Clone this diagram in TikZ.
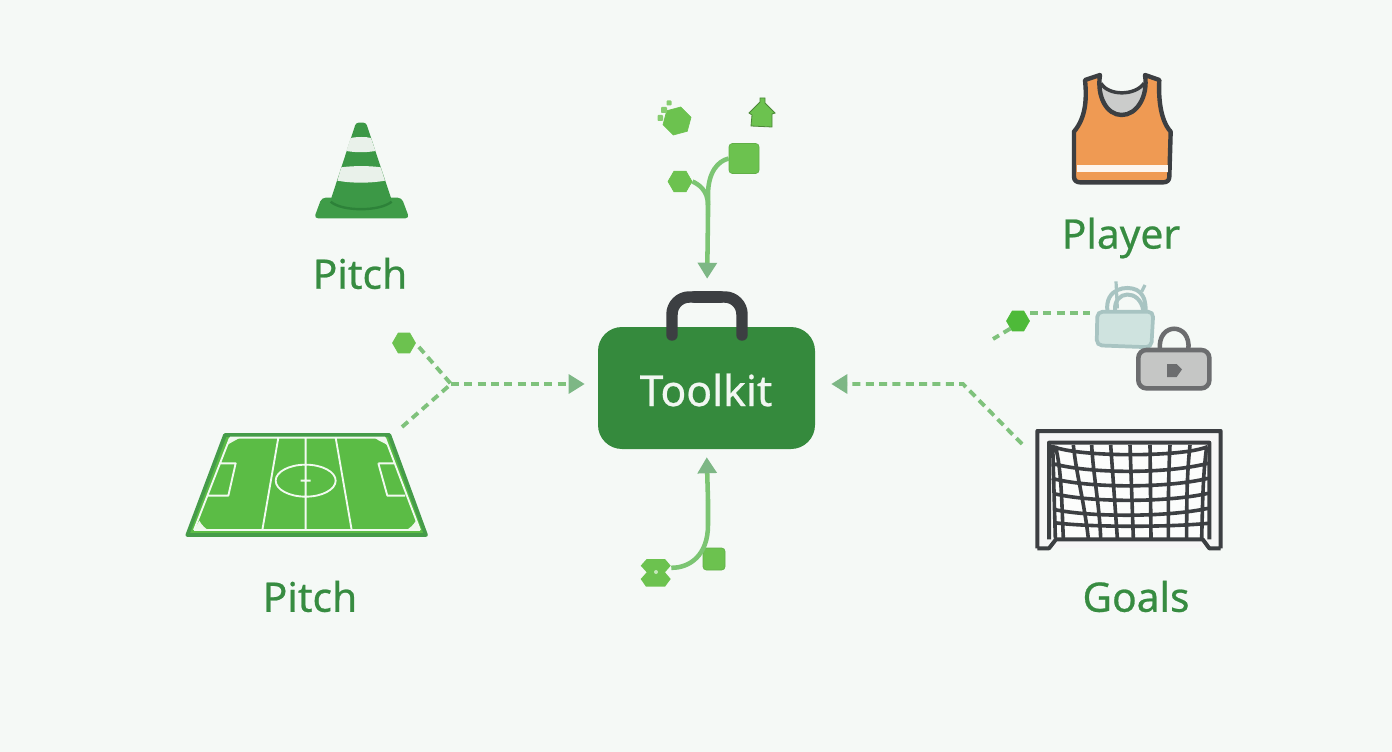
\documentclass[tikz,border=0pt]{standalone}
\usepackage{fontspec}
\setmainfont[FakeBold=0.6]{Noto Sans}
\usetikzlibrary{arrows.meta,shapes.geometric}
\definecolor{bgc}{HTML}{F5F9F6}
\definecolor{tkgreen}{HTML}{358A3D}
\definecolor{lbl}{HTML}{378C41}
\definecolor{lime}{HTML}{6CC24F}
\definecolor{conn}{HTML}{7CC573}
\definecolor{dashc}{HTML}{7FC27C}
\definecolor{headc}{HTML}{7DB785}
\definecolor{pitchf}{HTML}{5BBC45}
\definecolor{pitche}{HTML}{459C49}
\definecolor{dark}{HTML}{3C3F42}
\definecolor{orangef}{HTML}{EF9A53}
\definecolor{conef}{HTML}{3F9C48}
\definecolor{coned}{HTML}{2D8239}
\definecolor{stripe}{HTML}{E9F1EA}
\definecolor{lockaf}{HTML}{CFE3DF}
\definecolor{lockae}{HTML}{A8C4C2}
\definecolor{lockbf}{HTML}{C5C6C5}
\definecolor{lockbe}{HTML}{6C6D6F}
\tikzset{
  lab/.style={font=\fontsize{30.5pt}{34pt}\selectfont,text=lbl,inner sep=0pt},
  hexa/.style={regular polygon,regular polygon sides=6,fill=lime,draw=lime,line width=.5pt,inner sep=0pt,minimum size=#1*1.5pt},
  sq/.style={rectangle,rounded corners=2.5pt,fill=lime,draw=lime!90!black,line width=.5pt,inner sep=0pt,minimum size=#1*.75pt},
  solidc/.style={draw=conn,line width=3.4pt},
  headarrow/.style={-{Triangle[length=12pt,width=14pt,color=headc,fill=headc]}},
  dashl/.style={draw=dashc,line width=2.9pt,dash pattern=on 6pt off 4pt},
  zoomed/.style={shift={#1},x=.25pt,y=-.25pt},
}
\begin{document}
\begin{tikzpicture}[x=.75pt,y=-.75pt]
\useasboundingbox (0,0) rectangle (1392,752);
\fill[bgc] (0,0) rectangle (1392,752);

% Toolkit bag
\node[rectangle,rounded corners=18pt,fill=tkgreen,minimum width=162.75pt,minimum height=91.5pt,inner sep=0pt] (toolkit) at (706.5,388) {};
\draw[dark,line width=8.6pt,line cap=round,rounded corners=13pt] (672,335) -- (672,297) -- (742,297) -- (742,335);
\draw[dark,line width=9.6pt,line cap=round] (695,297) -- (720,297);
\node[font=\fontsize{32pt}{36pt}\selectfont,text=white!93!tkgreen,inner sep=0pt] (toolkitlabel) at (706,390) {Toolkit};

% Top cluster
\node[hexa=14.5,rotate=15] (hextop) at (677,121) {};
\fill[lime!80!bgc,rounded corners=.6pt] (666.5,100.5) rectangle (671.5,105.5) (661,107) rectangle (667,113) (657.5,115) rectangle (663,121);
\fill[lime,draw=lime!70!black,line width=.6pt] (760,102) -- (760,98) -- (765,98) -- (765,103) -- (775,113) -- (772,114) -- (772,127) -- (751,126) -- (752,115) -- (749,113) -- cycle;
\node[sq=30] (sqtop) at (744,158.5) {};
\node[hexa=12] (hexmid) at (680,181.5) {};
\coordinate (trunkt) at (708,215);
\draw[solidc] (sqtop.west) .. controls (718,161) and (708,172) .. (708,195) -- (trunkt);
\draw[solidc] (hexmid.east) .. controls (698,184) and (708,190) .. (708,205);
\draw[solidc,headarrow,shorten >=36pt] (trunkt) -- (toolkit.north);

% Bottom cluster
\node[sq=22] (sqbot) at (714,559) {};
\node[minimum width=22.5pt,minimum height=20pt,inner sep=0pt] (notch) at (656,572.8) {};
\fill[lime] (646.7,559) -- (665,559) -- (670.7,565.7) -- (665,572.3) -- (670.7,579) -- (665,586.7) -- (646,586.7) -- (640.7,579) -- (646.7,572.3) -- (640.7,565.7) -- cycle;
\fill[white!60!lime] (656,572) circle (1.5pt);
\coordinate (trunkb) at (708,500);
\draw[solidc] (notch.east) ++(0,-5) .. controls (690,568) and (708,555) .. (708,525) -- (trunkb);
\draw[solidc,headarrow,shorten >=6pt] (trunkb) -- (toolkit.south);

% Left dashed connectors
\node[hexa=11.5] (hexleft) at (404,343) {};
\coordinate (jl) at (451,384);
\coordinate (pitchend) at (402,427);
\draw[dashl] (hexleft.east) ++(3,4) -- (jl);
\draw[dashl] (pitchend) -- (jl);
\draw[dashl,headarrow,shorten >=9.75pt] (jl) -- (toolkit.west |- jl) ;

% Right dashed connectors
\coordinate (jr) at (963,384);
\coordinate (goalend) at (1022,444);
\draw[dashl,headarrow,shorten >=12pt] (goalend) -- (jr) -- (toolkit.east |- jr);
\node[hexa=11.5,fill=lime!80!green!90!black,draw=lime!80!green!90!black] (hexright) at (1018,321) {};
\coordinate (lockend) at (1090,313);
\coordinate (freer) at (993,339);
\draw[dashl] (hexright.east |- lockend) -- (lockend);
\draw[dashl] (hexright.south west) -- (freer);

% Labels
\node[lab] (lpitcha) at (360,273.5) {Pitch};
\node[lab] (lpitchb) at (310,596.5) {Pitch};
\node[lab] (lplayer) at (1121,238) {Player};
\node[lab] (lgoals) at (1136,596.5) {Goals};

% Cone
\begin{scope}[zoomed={(300,110)}]
\fill[conef,rounded corners=3pt] (65,263) -- (305,263) -- (328,325) -- (42,325) -- cycle;
\fill[conef!85!coned,rounded corners=2pt] (168,38) -- (198,38) -- (275,270) .. controls (240,305) and (125,305) .. (92,270) -- cycle;
\draw[coned,line width=1.8pt] (92,275) .. controls (125,305) and (240,305) .. (275,275);
\fill[stripe] (152,84) .. controls (170,80) and (200,80) .. (213,84) -- (226,123) .. controls (195,128) and (170,128) .. (139,123) -- cycle;
\fill[stripe] (124,172) .. controls (160,167) and (210,167) .. (242,172) -- (255,212) .. controls (210,220) and (155,220) .. (112,212) -- cycle;
\end{scope}

% Pitch
\begin{scope}[zoomed={(170,320)}]
\fill[pitchf] (165,345) -- (658,345) -- (768,645) -- (52,645) -- cycle;
\draw[pitche,line width=2.8pt,line join=round] (165,345) -- (658,345) -- (768,645) -- (52,645) -- cycle;
\fill[white!90!pitchf] (178,354) -- (208,354) .. controls (195,362) and (185,366) .. (170,376) -- cycle;
\fill[white!90!pitchf] (615,354) -- (645,354) -- (655,378) .. controls (645,368) and (630,366) .. cycle;
\fill[white!90!pitchf] (88,602) .. controls (95,615) and (105,625) .. (115,630) -- (72,630) -- cycle;
\fill[white!90!pitchf] (738,602) .. controls (730,615) and (720,625) .. (708,630) -- (750,630) -- cycle;
\draw[white!92!pitchf,line width=1.4pt,line join=round]
  (180,353) -- (645,353) (72,630) -- (750,630)
  (180,353) -- (72,630) (645,353) -- (750,630)
  (407,353) -- (407,630) (325,353) -- (277,630) (497,353) -- (545,630)
  (407,482) ellipse [x radius=90,y radius=48]
  (150,430) -- (197,430) -- (175,527) -- (115,527)
  (625,430) -- (672,430) (625,430) -- (652,527) -- (705,527)
  (392,482) -- (422,482);
\end{scope}

% Player shirt
\begin{scope}[zoomed={(1050,60)}]
\fill[lockbf!90!white] (153,70) .. controls (175,108) and (255,108) .. (282,70) -- (285,130) -- (215,170) -- (150,130) -- cycle;
\draw[dark,line width=3.3pt,line join=round,fill=orangef]
  (150,45) -- (105,60) .. controls (110,110) and (110,170) .. (72,215)
  -- (72,350) .. controls (72,362) and (80,367) .. (90,367) -- (340,367) .. controls (352,367) and (358,360) .. (358,350)
  -- (362,215) .. controls (330,180) and (325,110) .. (328,60) -- (285,45)
  .. controls (295,110) and (260,165) .. (215,165) .. controls (170,165) and (140,110) .. (150,45) -- cycle;
\draw[dark,line width=2.6pt] (153,70) .. controls (175,108) and (255,108) .. (282,70);
\fill[white!90!orangef] (82,315) rectangle (353,335);
\end{scope}

% Locks and goal
\begin{scope}[zoomed={(980,270)}]
\draw[lockae,line width=3pt] (382,122) .. controls (375,55) and (440,45) .. (470,60) .. controls (495,75) and (497,100) .. (497,122);
\draw[lockae,line width=3pt] (405,122) .. controls (400,60) and (480,55) .. (490,122);
\draw[lockae,line width=2.4pt] (408,34) -- (412,115) (495,45) -- (485,65);
\draw[lockae,line width=2.8pt,rounded corners=4pt,fill=lockaf] (352,125) -- (520,125) -- (514,232) -- (350,226) -- cycle;
\draw[lockbe,line width=3.4pt] (540,240) .. controls (530,155) and (635,155) .. (625,240);
\draw[lockbe,line width=3.4pt,rounded corners=6pt,fill=lockbf] (475,240) rectangle (688,355);
\fill[lockbe] (561,282) -- (590,282) -- (606,298) -- (590,321) -- (561,321) -- cycle;

\fill[white!85!lockbf] (172,483) -- (722,483) -- (722,835) -- (172,835) -- cycle;
\fill[white!70!bgc] (210,520) rectangle (686,808);
\draw[dark,line width=3pt,line join=round]
  (172,835) -- (172,483) -- (722,483) -- (722,835) (207,808) -- (207,518) -- (688,518) -- (688,808)
  (172,835) -- (207,835) -- (228,808) -- (668,808) -- (688,835) -- (722,835);
\draw[dark,line width=2.7pt]
  (218,525) -- (226,805)
  (226,528) .. controls (245,600) and (245,700) .. (250,805)
  (280,525) .. controls (290,620) and (310,680) .. (325,805)
  (335,525) .. controls (340,620) and (358,700) .. (362,805)
  (392,525) -- (412,805) (450,525) -- (460,805) (510,525) -- (513,805)
  (570,525) .. controls (565,620) and (565,700) .. (565,805)
  (630,525) .. controls (620,620) and (620,700) .. (620,805)
  (680,530) .. controls (668,620) and (668,700) .. (665,805)
  (220,530) .. controls (300,562) and (610,562) .. (682,530)
  (215,580) .. controls (330,612) and (560,612) .. (684,580)
  (215,625) .. controls (330,655) and (560,655) .. (684,625)
  (218,670) .. controls (330,698) and (560,698) .. (684,670)
  (220,718) .. controls (330,742) and (560,742) .. (684,715)
  (222,758) .. controls (330,772) and (560,772) .. (684,760);
\end{scope}
\end{tikzpicture}
\end{document}
